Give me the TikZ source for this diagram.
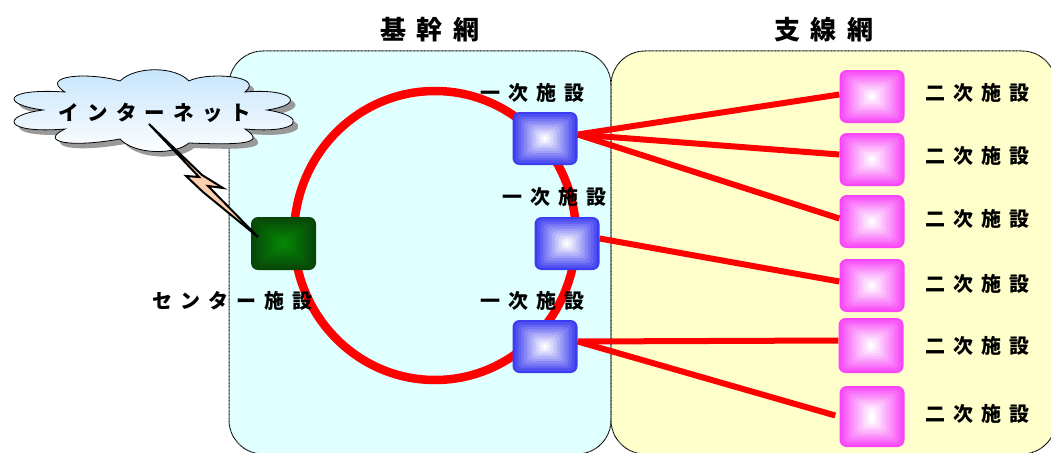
\documentclass[tikz,border=0pt]{standalone}
\usepackage{fontspec}
\newfontfamily\jpfont[LetterSpace=40]{Noto Sans CJK JP}
\usetikzlibrary{positioning}
\definecolor{corecolor}{HTML}{E0FFFF}
\definecolor{branchcolor}{HTML}{FFFFCC}
\definecolor{boltcolor}{HTML}{FFD0B0}
\definecolor{skycolor}{HTML}{C4E4FC}
\definecolor{greenedge}{RGB}{8,70,8}
\definecolor{greenmid}{RGB}{5,135,5}
\definecolor{blueedge}{RGB}{60,60,240}
\definecolor{magentaedge}{RGB}{248,70,248}
\tikzset{
  area/.style={draw=black,dash pattern=on .9pt off .5pt,line width=1pt,rounded corners=34pt},
  link/.style={color=red,line width=6pt},
  ring/.style={draw=red,line width=8.5pt},
  lbl/.style={font=\jpfont\bfseries\fontsize{20}{20}\selectfont,inner sep=0pt},
  ttl/.style={font=\jpfont\bfseries\fontsize{26}{26}\selectfont,inner sep=0pt},
  site/.style={minimum width=65pt,inner sep=0pt,rounded corners=7pt},
}
% nested boxes: name, position, height, edge colour, middle colour
\newcommand{\facility}[5]{
  \node[site,minimum height=#3pt,fill=#4] (#1) at (#2) {};
  \foreach \n [evaluate=\n as \m using \n*100/30] in {3,6,...,30}
    \fill[#5!\m!#4,rounded corners=4pt]
      ([xshift=\n pt,yshift=-\n pt*0.8]#1.north west) rectangle ([xshift=-\n pt,yshift=\n pt*0.8]#1.south east);
}
\newcommand{\cloudpath}{
  (120,81) .. controls (135,66) and (175,66) .. (189,81)
  .. controls (205,72) and (266,75) .. (245,92)
  .. controls (292,88) and (308,104) .. (267,110)
  .. controls (308,116) and (302,134) .. (245,129)
  .. controls (268,144) and (240,145) .. (189,143)
  .. controls (175,155) and (135,155) .. (120,139)
  .. controls (70,148) and (38,142) .. (65,129)
  .. controls (4,134) and (-1,116) .. (43,110)
  .. controls (-1,104) and (4,88) .. (65,92)
  .. controls (38,75) and (90,72) .. (120,81) -- cycle
}
\begin{document}
\begin{tikzpicture}[x=1pt,y=-1pt]
  \useasboundingbox (0,0) rectangle (1051,452);
  \fill[white] (0,0) rectangle (1051,452);
  \begin{scope}
  \clip (0,0) rectangle (1051,452);
  \draw[area,fill=corecolor] (229,51) rectangle (611,454);
  \draw[area,fill=branchcolor] (611,51) rectangle (1056,454);
  \end{scope}

  \node[ttl] (coretitle) at (430,30) {基幹網};
  \node[ttl] (branchtitle) at (824,30) {支線網};

  \coordinate (ringcenter) at (435,235.5);
  \draw[ring] (ringcenter) ellipse (141 and 144.5);

  \facility{center}{283.5,243.5}{53}{greenedge}{greenmid}
  \facility{coreA}{545,138.5}{53}{blueedge}{white}
  \facility{coreB}{567,243.5}{53}{blueedge}{white}
  \facility{coreC}{545,346.5}{53}{blueedge}{white}
  \facility{subA}{872,96.5}{53}{magentaedge}{white}
  \facility{subB}{872,159.5}{53}{magentaedge}{white}
  \facility{subC}{872,221.5}{53}{magentaedge}{white}
  \facility{subD}{872,285.5}{53}{magentaedge}{white}
  \facility{subE}{871,345.5}{55}{magentaedge}{white}
  \facility{subF}{872,416.5}{61}{magentaedge}{white}

  \draw[link] ([yshift=4pt]coreA.east) -- ([yshift=2pt]subA.west);
  \draw[link] ([yshift=4pt]coreA.east) -- ([yshift=5pt]subB.west);
  \draw[link] ([yshift=4pt]coreA.east) -- ([yshift=3pt]subC.west);
  \draw[link] ([yshift=5pt]coreB.east) -- ([yshift=4pt]subD.west);
  \draw[link] ([yshift=5pt]coreC.east) -- ([yshift=5pt]subE.west);
  \draw[link] ([yshift=5pt]coreC.east) -- ([xshift=-4pt,yshift=1pt]subF.west);

  \node[lbl] (coreAlbl) at (532,93) {一次施設};
  \node[lbl] (coreBlbl) at (554,197) {一次施設};
  \node[lbl] (coreClbl) at (532,301) {一次施設};
  \node[lbl] (centerlbl) at (232,301) {センター施設};
  \foreach \name/\y in {subAlbl/93,subBlbl/156,subClbl/219,subDlbl/284,subElbl/346,subFlbl/414}
    \node[lbl] (\name) at (977,\y) {二次施設};

  % cloud and its shadow
  \fill[black!40] [shift={(5,5)}] \cloudpath;
  \draw[black,line width=.8pt,top color=skycolor,bottom color=white] \cloudpath;
  \node[lbl,font=\jpfont\bfseries\fontsize{20.5}{20.5}\selectfont] (net) at (155,113) {インターネット};

  \coordinate (bolttop) at (149,124);
  \coordinate (boltend) at (258,237);
  \draw[black,line width=2pt,fill=boltcolor,line join=miter]
    (bolttop) -- (202,175) -- (223,188) -- (208,186) -- (boltend)
    -- (203,192) -- (186,176) -- (199,177) -- cycle;
\end{tikzpicture}
\end{document}
